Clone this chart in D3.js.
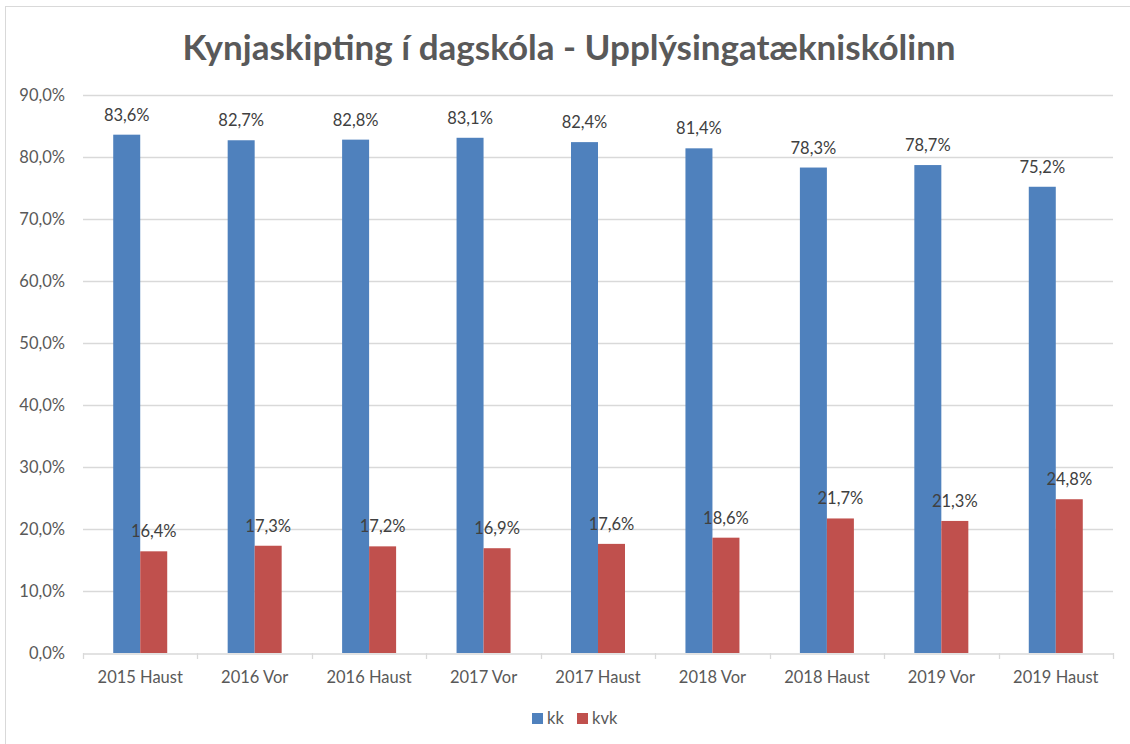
<!DOCTYPE html>
<html>
<head>
<meta charset="utf-8">
<script src="https://cdn.jsdelivr.net/npm/d3@7"></script>
<style>
  body { margin: 0; background: #fff; }
  svg { font-family: Lato, "Open Sans", sans-serif; }
</style>
</head>
<body>
<svg width="1130" height="744"></svg>
<script>
const categories = ["2015 Haust", "2016 Vor", "2016 Haust", "2017 Vor", "2017 Haust", "2018 Vor", "2018 Haust", "2019 Vor", "2019 Haust"]
const kk = [83.6, 82.7, 82.8, 83.1, 82.4, 81.4, 78.3, 78.7, 75.2]
const kvk = [16.4, 17.3, 17.2, 16.9, 17.6, 18.6, 21.7, 21.3, 24.8]
const seriesNames = ["kk", "kvk"]
const colors = ["#4F81BD", "#C0504D"]
const yTicks = [0, 10, 20, 30, 40, 50, 60, 70, 80, 90]
const title = "Kynjaskipting í dagskóla - Upplýsingatækniskólinn"

const fmt = v => v.toFixed(1).replace(".", ",") + "%"
const svg = d3.select("svg")

// chart frame
svg.append("rect")
    .attr("x", 5.5).attr("y", 6.5)
    .attr("width", 1140).attr("height", 760)
    .attr("fill", "none")
    .attr("stroke", "#d9d9d9")

const xScale = d3.scaleBand().domain(categories).range([83, 1113])
const yScale = d3.scaleLinear().domain([0, 90]).range([653, 95])

// gridlines
svg.append("g")
    .selectAll("line")
    .data(yTicks.slice(1))
    .enter()
    .append("line")
    .attr("x1", 83).attr("x2", 1113)
    .attr("y1", d => Math.round(yScale(d)) + 0.5)
    .attr("y2", d => Math.round(yScale(d)) + 0.5)
    .attr("stroke", "#d9d9d9")
    .attr("stroke-width", 1.3)

// y labels
const yAxis = d3.axisLeft(yScale).tickValues(yTicks).tickFormat(fmt).tickSize(0).tickPadding(18)
svg.append("g")
    .attr("id", "yAxisG")
    .attr("transform", "translate(83, 0)")
    .call(yAxis)
svg.select("#yAxisG path.domain").remove()
svg.select("#yAxisG").selectAll("text")
    .attr("fill", "#595959")
    .style("font-size", "16.5px")
    .style("font-family", "Lato, sans-serif")

// bars
const data = seriesNames.map((name, s) => ({ name, color: colors[s], values: s === 0 ? kk : kvk }))
const groups = svg.append("g")
    .selectAll("g.series")
    .data(data)
    .enter()
    .append("g")
    .attr("class", "series")

const barW = 27
groups.selectAll("rect")
    .data(d => d.values.map((v, i) => ({ v, i, name: d.name, color: d.color })))
    .enter()
    .append("rect")
    .attr("x", d => xScale(categories[d.i]) + xScale.bandwidth() / 2 - barW + (d.name === "kk" ? 0 : barW))
    .attr("y", d => yScale(d.v))
    .attr("width", barW)
    .attr("height", d => yScale(0) - yScale(d.v))
    .attr("fill", d => d.color)

groups.selectAll("text")
    .data(d => d.values.map((v, i) => ({ v, i, name: d.name })))
    .enter()
    .append("text")
    .attr("x", d => xScale(categories[d.i]) + xScale.bandwidth() / 2 + (d.name === "kk" ? -barW / 2 : barW / 2))
    .attr("y", d => yScale(d.v) - 14)
    .attr("text-anchor", "middle")
    .attr("fill", "#404040")
    .style("font-size", "16.5px")
    .text(d => fmt(d.v))

// x axis
const xAxis = d3.axisBottom(xScale).tickSize(0).tickPadding(18)
svg.append("g")
    .attr("id", "xAxisG")
    .attr("transform", "translate(0, 653.5)")
    .call(xAxis)
svg.select("#xAxisG path.domain")
    .attr("stroke", "#d9d9d9")
    .attr("stroke-width", 1.3)
svg.select("#xAxisG").selectAll("text")
    .attr("fill", "#595959")
    .style("font-size", "16.5px")
    .style("font-family", "Lato, sans-serif")

svg.append("g")
    .selectAll("line")
    .data(categories.concat([null]))
    .enter()
    .append("line")
    .attr("x1", (d, i) => Math.round(83 + i * xScale.step()) + 0.5)
    .attr("x2", (d, i) => Math.round(83 + i * xScale.step()) + 0.5)
    .attr("y1", 653).attr("y2", 659)
    .attr("stroke", "#d9d9d9")
    .attr("stroke-width", 1.3)

// title
svg.append("text")
    .attr("x", 569).attr("y", 60)
    .attr("text-anchor", "middle")
    .attr("fill", "#595959")
    .style("font-size", "35px")
    .style("font-weight", "bold")
    .text(title)

// legend
const legend = svg.append("g").attr("transform", "translate(532, 713)")
const items = legend.selectAll("g")
    .data(data)
    .enter()
    .append("g")
    .attr("transform", (d, i) => `translate(${i * 45}, 0)`)
items.append("rect")
    .attr("width", 11).attr("height", 11)
    .attr("fill", d => d.color)
items.append("text")
    .attr("x", 15).attr("y", 11)
    .attr("fill", "#595959")
    .style("font-size", "16.5px")
    .text(d => d.name)
</script>
</body>
</html>
